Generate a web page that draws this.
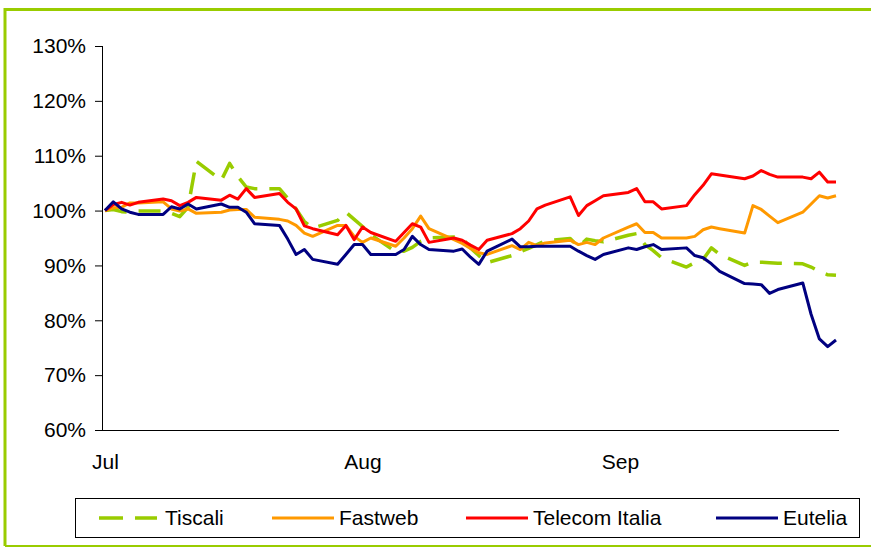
<!DOCTYPE html>
<html>
<head>
<meta charset="utf-8">
<script src="https://cdn.jsdelivr.net/npm/d3@7"></script>
<style>
  html, body { margin: 0; padding: 0; background: #fff; }
  svg { display: block; font-family: "Liberation Sans", Arial, sans-serif; }
</style>
</head>
<body>
<div class="stock-chart"></div>
<script>
"use strict";

// trading days, Jul 2 - Sep 28
const dates = [
  "2007-07-02", "2007-07-03", "2007-07-04", "2007-07-05", "2007-07-06",
  "2007-07-09", "2007-07-10", "2007-07-11", "2007-07-12", "2007-07-13",
  "2007-07-16", "2007-07-17", "2007-07-18", "2007-07-19", "2007-07-20",
  "2007-07-23", "2007-07-24", "2007-07-25", "2007-07-26", "2007-07-27",
  "2007-07-30", "2007-07-31", "2007-08-01", "2007-08-02", "2007-08-03",
  "2007-08-06", "2007-08-07", "2007-08-08", "2007-08-09", "2007-08-10",
  "2007-08-13", "2007-08-14", "2007-08-15", "2007-08-16", "2007-08-17",
  "2007-08-20", "2007-08-21", "2007-08-22", "2007-08-23", "2007-08-24",
  "2007-08-27", "2007-08-28", "2007-08-29", "2007-08-30", "2007-08-31",
  "2007-09-03", "2007-09-04", "2007-09-05", "2007-09-06", "2007-09-07",
  "2007-09-10", "2007-09-11", "2007-09-12", "2007-09-13", "2007-09-14",
  "2007-09-17", "2007-09-18", "2007-09-19", "2007-09-20", "2007-09-21",
  "2007-09-24", "2007-09-25", "2007-09-26", "2007-09-27", "2007-09-28",
];

const tiscali = [
  100, 100.2, 99.8, 99.7, 99.9,
  99.9, 99.5, 98.9, 100.6, 109.0,
  105.5, 108.6, 106.2, 104.3, 104.0,
  104.0, 102.2, 100.3, 98.0, 96.8,
  98.2, 99.7, 98.4, 97.1, 95.6,
  92.5, 92.6, 93.3, 94.4, 95.0,
  95.2, 95.0, 93.2, 91.8, 90.5,
  91.8, 92.5, 93.1, 93.8, 94.5,
  94.9, 93.4, 94.8, 94.5, 94.3,
  95.5, 95.8, 93.8, 92.7, 91.4,
  89.7, 90.5, 91.1, 93.2, 92.0,
  90.0, 90.6, 90.6, 90.5, 90.4,
  90.3, 89.7, 88.9, 88.3, 88.2,
];

const fastweb = [
  100, 100.5, 100.6, 101.4, 101.4,
  101.6, 100.3, 99.9, 100.3, 99.5,
  99.7, 100.1, 100.2, 100.2, 98.8,
  98.4, 98.1, 97.3, 95.9, 95.3,
  97.3, 97.3, 95.3, 94.2, 95.0,
  93.5, 95.0, 96.7, 99.0, 96.7,
  94.7, 94.0, 93.1, 92.3, 92.0,
  93.6, 92.9, 94.2, 93.6, 94.1,
  94.6, 93.8, 94.2, 93.8, 95.0,
  97.0, 97.6, 96.0, 96.0, 95.0,
  95.0, 95.3, 96.5, 97.0, 96.7,
  95.9, 100.9, 100.2, 99.0, 97.8,
  99.7, 101.2, 102.7, 102.3, 102.7,
];

const telecom = [
  100, 101.1, 101.5, 101.0, 101.5,
  102.1, 101.8, 100.9, 101.5, 102.4,
  101.9, 102.8, 102.1, 104.0, 102.4,
  103.1, 101.5, 100.3, 97.2, 96.7,
  95.6, 97.3, 94.7, 97.0, 96.0,
  94.4, 96.0, 97.6, 97.0, 94.2,
  95.0, 94.6, 93.7, 92.9, 94.6,
  95.8, 96.7, 98.1, 100.3, 101.0,
  102.5, 99.1, 100.9, 101.8, 102.7,
  103.3, 104.0, 101.6, 101.6, 100.3,
  100.9, 102.9, 104.6, 106.7, 106.5,
  105.8, 106.3, 107.3, 106.6, 106.1,
  106.1, 105.8, 107.0, 105.2, 105.2,
];

const eutelia = [
  100, 101.6, 100.3, 99.7, 99.3,
  99.3, 100.7, 100.3, 101.2, 100.3,
  101.2, 100.6, 100.6, 99.7, 97.6,
  97.3, 94.8, 92.0, 92.9, 91.1,
  90.2, 92.0, 93.8, 93.8, 92.0,
  92.0, 92.9, 95.3, 93.8, 92.9,
  92.6, 93.0, 91.5, 90.2, 92.6,
  94.8, 93.4, 93.4, 93.5, 93.5,
  93.5, 92.6, 91.8, 91.1, 92.0,
  93.2, 92.9, 93.4, 93.8, 92.9,
  93.2, 91.8, 91.4, 90.3, 88.9,
  86.7, 86.6, 86.5, 84.9, 85.6,
  86.8, 81.1, 76.6, 75.2, 76.4,
];

const seriesNames = ["Tiscali", "Fastweb", "Telecom Italia", "Eutelia"];
const seriesValues = [tiscali, fastweb, telecom, eutelia];
const yTicks = [0.6, 0.7, 0.8, 0.9, 1.0, 1.1, 1.2, 1.3];
const monthTicks = ["2007-07-02", "2007-08-02", "2007-09-02"];

const colorMap = {
  Tiscali: "#99cc00",
  Fastweb: "#ff9900",
  "Telecom Italia": "#ff0000",
  Eutelia: "#000080",
};

const parse = d3.timeParse("%Y-%m-%d");
const days = dates.map(parse);

const width = 871;
const height = 548;
const plot = { left: 102, right: 839, top: 46, bottom: 430 };
const fontSize = "21px";

const svg = d3
  .select(".stock-chart")
  .append("svg")
  .attr("width", width)
  .attr("height", height);

// green frame round the chart
svg
  .append("path")
  .attr("d", `M5,546 V9.5 H${width + 5}`)
  .attr("fill", "none")
  .attr("stroke", "#99cc00")
  .attr("stroke-width", 3);
svg
  .append("line")
  .attr("x1", 5)
  .attr("x2", width)
  .attr("y1", 546)
  .attr("y2", 546)
  .attr("stroke", "#99cc00")
  .attr("stroke-width", 2);

const x = d3
  .scaleTime()
  .domain([days[0], days[days.length - 1]])
  .range([105, 836]);

const y = d3
  .scaleLinear()
  .domain([0.6, 1.3])
  .range([plot.bottom, plot.top]);

// y axis
const yAxis = d3
  .axisLeft(y)
  .tickValues(yTicks)
  .tickSize(7)
  .tickPadding(9)
  .tickFormat(d3.format(".0%"));

svg
  .append("g")
  .attr("class", "axis y-axis")
  .attr("transform", `translate(${plot.left},0)`)
  .call(yAxis)
  .call((g) => g.select(".domain").remove())
  .call((g) => g.selectAll(".tick line").attr("stroke", "#000"))
  .call((g) =>
    g
      .selectAll(".tick text")
      .attr("font-size", fontSize)
      .attr("font-family", "Liberation Sans, Arial, sans-serif")
      .attr("fill", "#000")
  );

svg
  .append("line")
  .attr("x1", plot.left + 0.5)
  .attr("x2", plot.left + 0.5)
  .attr("y1", plot.top)
  .attr("y2", plot.bottom)
  .attr("stroke", "#000");

// x axis, month labels only
const xAxis = d3
  .axisBottom(x)
  .tickValues(monthTicks.map(parse))
  .tickSize(0)
  .tickPadding(24)
  .tickFormat(d3.timeFormat("%b"));

svg
  .append("g")
  .attr("class", "axis x-axis")
  .attr("transform", `translate(0,${plot.bottom})`)
  .call(xAxis)
  .call((g) => g.select(".domain").remove())
  .call((g) =>
    g
      .selectAll(".tick text")
      .attr("font-size", fontSize)
      .attr("font-family", "Liberation Sans, Arial, sans-serif")
      .attr("fill", "#000")
  );

svg
  .append("line")
  .attr("x1", plot.left)
  .attr("x2", plot.right)
  .attr("y1", plot.bottom + 0.5)
  .attr("y2", plot.bottom + 0.5)
  .attr("stroke", "#000");

// the four lines
const line = d3
  .line()
  .x((d, i) => x(days[i]))
  .y((d) => y(d / 100));

seriesNames.forEach((name, k) => {
  svg
    .append("path")
    .datum(seriesValues[k])
    .attr("fill", "none")
    .attr("stroke", colorMap[name])
    .attr("stroke-width", name === "Tiscali" ? 3.5 : 3)
    .attr("stroke-linejoin", "round")
    .attr("stroke-dasharray", name === "Tiscali" ? "22,12" : null)
    .attr("d", line);
});

// legend
const legend = svg.append("g").attr("class", "legend");

legend
  .append("rect")
  .attr("x", 75.5)
  .attr("y", 498.5)
  .attr("width", 784)
  .attr("height", 39)
  .attr("fill", "#fff")
  .attr("stroke", "#000");

const legendX = [99, 272, 466, 716];

seriesNames.forEach((name, k) => {
  const g = legend
    .append("g")
    .attr("transform", `translate(${legendX[k]},518)`);
  g.append("line")
    .attr("x1", 0)
    .attr("x2", name === "Tiscali" ? 58 : 62)
    .attr("stroke", colorMap[name])
    .attr("stroke-width", name === "Tiscali" ? 3.5 : 3)
    .attr("stroke-dasharray", name === "Tiscali" ? "24,12" : null);
  g.append("text")
    .attr("x", name === "Tiscali" ? 66 : 67)
    .attr("dy", "0.35em")
    .attr("font-size", fontSize)
    .attr("fill", "#000")
    .text(name);
});
</script>
</body>
</html>
